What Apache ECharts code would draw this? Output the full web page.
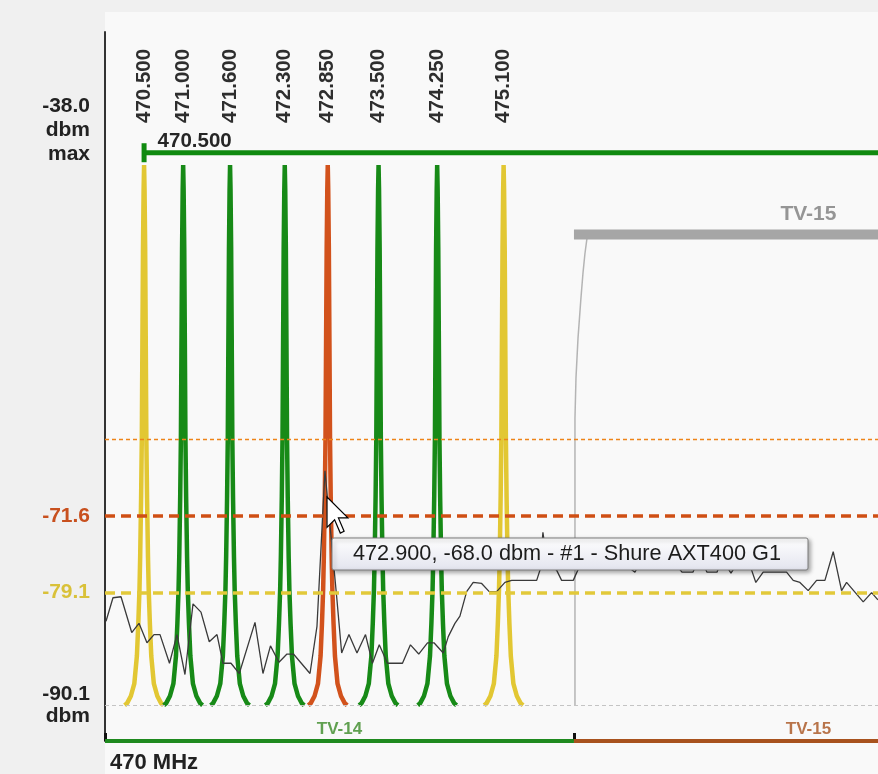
<!DOCTYPE html>
<html><head><meta charset="utf-8">
<script src="https://cdn.jsdelivr.net/npm/echarts@6/dist/echarts.min.js"></script>
<style>html,body{margin:0;padding:0;background:#f0f0f0}#c{width:878px;height:774px}</style>
</head><body><div id="c"></div>
<script>
// ---------------- data ----------------
const CARRIER_MHZ = [470.5, 471.0, 471.6, 472.3, 472.85, 473.5, 474.25, 475.1];
const CARRIER_STATUS = ['warn', 'ok', 'ok', 'ok', 'conflict', 'ok', 'ok', 'warn'];
// carrier peak profile (offset from centre, level)
const PEAK_OFFSET_MHZ = [0.249, 0.217, 0.169, 0.125, 0.092, 0.074, 0.059, 0.050, 0.038, 0.029, 0.022, 0.014, 0.006, 0];
const PEAK_DBM = [-90.1, -89.9, -89.2, -88.0, -85.3, -82.1, -78.8, -75.6, -69.8, -64.0, -55.2, -45.5, -39.7, -37.3];
const NOISE_MHZ = [470.013, 470.102, 470.205, 470.342, 470.435, 470.537, 470.627, 470.704, 470.825, 470.921,
  471.023, 471.126, 471.228, 471.334, 471.433, 471.51, 471.612, 471.718, 471.919, 472.021,
  472.117, 472.226, 472.328, 472.411, 472.623, 472.712, 472.814, 472.964, 473.028, 473.121,
  473.224, 473.333, 473.422, 473.509, 473.614, 473.806, 473.908, 474.014, 474.126, 474.209,
  474.328, 474.392, 474.477, 474.541, 474.627, 474.711, 474.819, 474.916, 475.011, 475.117,
  475.203, 475.523, 475.565, 475.603, 475.654, 475.778, 475.842, 475.991, 476.055, 476.204,
  476.332, 476.486, 476.614, 476.78, 476.87, 476.998, 477.126, 477.228, 477.382, 477.522,
  477.612, 477.702, 477.83, 477.894, 478.009, 478.124, 478.273, 478.327, 478.421, 478.72,
  478.805, 478.891, 478.997, 479.104, 479.211, 479.317, 479.424, 479.488, 479.701, 479.808, 479.889];
const NOISE_DBM = [-81.9, -79.6, -79.5, -83.0, -82.1, -84.0, -83.2, -83.2, -86.0, -83.2,
  -87.1, -80.2, -81.0, -83.9, -83.2, -86.0, -86.0, -87.0, -82.0, -87.0,
  -84.3, -85.9, -85.1, -85.1, -87.0, -82.4, -67.2, -79.5, -85.0, -83.2,
  -85.0, -83.2, -86.0, -84.2, -86.0, -86.0, -84.2, -85.1, -84.0, -84.0,
  -85.0, -83.4, -82.1, -81.4, -79.0, -78.1, -78.2, -79.0, -79.0, -78.1,
  -77.9, -77.9, -76.9, -73.2, -76.1, -76.9, -77.9, -77.9, -76.8, -75.8,
  -76.1, -75.6, -76.1, -77.1, -75.8, -76.8, -76.8, -75.6, -77.1, -77.1,
  -75.6, -77.1, -77.1, -75.8, -77.2, -75.8, -76.9, -78.1, -77.1, -77.1,
  -77.9, -78.1, -78.9, -77.9, -77.9, -75.1, -78.9, -78.1, -80.0, -79.1, -79.8];
const THRESH_DBM = [-64.1, -71.6, -79.1, -90.1];
const Y_TICKS = [-90.1, -79.1, -71.6, -38.0];
const MAX_LINE_DBM = -36.1;
const RANGE_START_MHZ = 470.5;
const TV_NAME = ['TV-14', 'TV-15'];
const TV_START = [470, 476];
const TV_END = [476, 482];
const TV15_MHZ = [476.013, 476.013, 476.026, 476.052, 476.089, 476.115, 476.14, 476.166, 476.204];
const TV15_DBM = [-90.1, -62.0, -58.1, -54.2, -50.35, -47.9, -46.0, -44.5, -43.9];
const TV15_LEVEL = -44.1;
const HOVER_MHZ = 472.9;
const HOVER_DBM = -68.0;
const HOVER_DEVICE = '#1 - Shure AXT400 G1';
const X_MIN = 470, X_MAX = 479.89, Y_MIN = -93.6, Y_MAX = -24.3;

// ---------------- style ----------------
const FONT = '"Liberation Sans", Arial, sans-serif';
const STATUS_COLOR = { ok: '#178a17', warn: '#e2c733', conflict: '#d2521c' };
const THRESH_STYLE = [
  { color: '#ee8418', width: 1.4, type: [4, 3], opacity: 1 },
  { color: '#cf4f14', width: 3.5, type: [10, 6], opacity: 1 },
  { color: '#e2c93a', width: 3.5, type: [10, 6], opacity: 1 },
  { color: '#c4c4c4', width: 1, type: [4, 3], opacity: 1 }
];
const BAND_COLOR = ['#1f8a1f', '#a8521e'];
const BAND_LABEL_COLOR = ['#3a8a26', '#a8521e'];

const chart = echarts.init(document.getElementById('c'), null, { renderer: 'canvas' });

function peakShape(c) {
  const pts = PEAK_OFFSET_MHZ.map((o, i) => [c - o, PEAK_DBM[i]]);
  for (let i = PEAK_OFFSET_MHZ.length - 2; i >= 0; i--) pts.push([c + PEAK_OFFSET_MHZ[i], PEAK_DBM[i]]);
  return pts;
}

const series = [];
// TV-15 mask curve + threshold lines
series.push({
  type: 'line', silent: true, showSymbol: false,
  data: TV15_MHZ.map((f, i) => [f, TV15_DBM[i]]),
  lineStyle: { color: '#b4b4b4', width: 1.5 },
  markLine: {
    silent: true, symbol: 'none', label: { show: false },
    data: THRESH_DBM.map((v, i) => ({ yAxis: v, lineStyle: THRESH_STYLE[i] }))
  }
});
// TV-15 bar
series.push({
  type: 'line', silent: true, showSymbol: false,
  data: [[TV_START[1], TV15_LEVEL], [TV_END[1], TV15_LEVEL]],
  lineStyle: { color: '#a6a6a6', width: 10, cap: 'butt' }
});
// carriers
CARRIER_MHZ.forEach((c, k) => {
  series.push({
    type: 'line', silent: true, showSymbol: false,
    data: peakShape(c),
    lineStyle: { color: STATUS_COLOR[CARRIER_STATUS[k]], width: 4.5 }
  });
});
// noise trace
series.push({
  type: 'line', silent: true, showSymbol: false,
  data: NOISE_MHZ.map((f, i) => [f, NOISE_DBM[i]]),
  lineStyle: { color: '#3a3a3a', width: 1.3 }
});
// range line from first carrier
series.push({
  type: 'line', silent: true, showSymbol: true, symbol: 'rect', symbolSize: [5, 19],
  itemStyle: { color: '#108a10' },
  lineStyle: { color: '#108a10', width: 5 },
  data: [
    { value: [RANGE_START_MHZ, MAX_LINE_DBM],
      label: { show: true, formatter: RANGE_START_MHZ.toFixed(3), position: [16, -2], align: 'left', verticalAlign: 'middle',
        fontFamily: FONT, fontWeight: 'bold', fontSize: 20.5, color: '#262626' } },
    { value: [X_MAX, MAX_LINE_DBM], symbol: 'none' }
  ]
});
// bottom TV bands
TV_NAME.forEach((n, i) => {
  series.push({
    type: 'line', silent: true, showSymbol: false, clip: false,
    data: [[TV_START[i], Y_MIN], [TV_END[i], Y_MIN]],
    lineStyle: { color: BAND_COLOR[i], width: 4 }, z: 3
  });
});
// labels
const labelData = [
  { value: [(TV_START[1] + TV_END[1]) / 2, TV15_LEVEL],
    label: { formatter: TV_NAME[1], color: '#7c7c7c', fontSize: 21, distance: 9 } }
];
TV_NAME.forEach((n, i) => labelData.push({
  value: [(TV_START[i] + TV_END[i]) / 2, Y_MIN],
  label: { formatter: n, color: BAND_LABEL_COLOR[i], fontSize: 17, distance: 3 }
}));
series.push({
  type: 'scatter', silent: true, symbolSize: 1, clip: false,
  itemStyle: { color: 'rgba(0,0,0,0)' },
  label: { show: true, position: 'top', fontFamily: FONT, fontWeight: 'bold' },
  data: labelData
});

const yLabelRich = {
  k: { fontFamily: FONT, fontWeight: 'bold', fontSize: 21, color: '#222', lineHeight: 24, align: 'right' },
  b: { fontFamily: FONT, fontWeight: 'bold', fontSize: 21, color: '#222', lineHeight: 22, align: 'right' },
  r: { fontFamily: FONT, fontWeight: 'bold', fontSize: 21, color: '#c8501e', align: 'right' },
  y: { fontFamily: FONT, fontWeight: 'bold', fontSize: 21, color: '#d9c139', align: 'right' },
  sp: { fontSize: 10, lineHeight: 84 }
};

const option = {
  animation: false,
  backgroundColor: '#f0f0f0',
  textStyle: { fontFamily: FONT },
  grid: { left: 105, right: 0, top: 32, bottom: 29, containLabel: false },
  xAxis: [
    { type: 'value', min: X_MIN, max: X_MAX, position: 'bottom',
      axisLine: { show: false }, splitLine: { show: false },
      axisTick: { show: true, customValues: [TV_START[0], TV_START[1]], inside: true, length: 8,
        lineStyle: { color: '#111', width: 3 } },
      axisLabel: { customValues: [X_MIN], formatter: v => v + ' MHz', align: 'left', margin: 11,
        padding: [0, 0, 0, 5], fontFamily: FONT, fontWeight: 'bold', fontSize: 22, color: '#222' } },
    { type: 'value', min: X_MIN, max: X_MAX, position: 'top', offset: -95,
      axisLine: { show: false }, axisTick: { show: false }, splitLine: { show: false },
      axisLabel: { customValues: CARRIER_MHZ, rotate: -90, margin: 4, formatter: v => v.toFixed(3),
        fontFamily: FONT, fontWeight: 'bold', fontSize: 20.5, color: '#2e2e2e' } }
  ],
  yAxis: {
    type: 'value', min: Y_MIN, max: Y_MAX,
    axisLine: { show: true, lineStyle: { color: '#333', width: 2 } },
    axisTick: { show: false }, splitLine: { show: false },
    axisLabel: {
      customValues: Y_TICKS, margin: 15, rich: yLabelRich,
      formatter: v => {
        const s = v.toFixed(1);
        if (s === Y_TICKS[3].toFixed(1)) return '{k|' + s + '}\n{k|dbm}\n{k|max}\n{sp| }';
        if (s === Y_TICKS[0].toFixed(1)) return '{b|' + s + '}\n{b|dbm}';
        if (s === Y_TICKS[2].toFixed(1)) return '{r|' + s + '}';
        return '{y|' + s + '}';
      }
    }
  },
  graphic: [
    { type: 'rect', z: -10, silent: true, shape: { x: 105, y: 12, width: 773, height: 762 }, style: { fill: '#f9f9f9' } },
    { type: 'polygon', z: 100, silent: true, x: 327, y: 497,
      shape: { points: [[0, 0], [0, 30.4], [7.6, 22.8], [13.3, 36.1], [17.1, 34.2], [11.4, 20.9], [20.9, 20.9]] },
      style: { fill: '#fff', stroke: '#000', lineWidth: 1.2 } },
    { type: 'rect', z: 100, silent: true, shape: { x: 332, y: 538, width: 476, height: 32, r: 2 },
      style: { fill: new echarts.graphic.LinearGradient(0, 0, 0, 1, [{ offset: 0, color: '#ffffff' }, { offset: 1, color: '#e3e4ee' }]),
        stroke: '#7d7d7d', lineWidth: 1, shadowBlur: 4, shadowOffsetX: 2, shadowOffsetY: 2, shadowColor: 'rgba(0,0,0,0.35)' } },
    { type: 'text', z: 101, silent: true, x: 353, y: 554,
      style: { text: HOVER_MHZ.toFixed(3) + ', ' + HOVER_DBM.toFixed(1) + ' dbm - ' + HOVER_DEVICE,
        font: '21.7px "Liberation Sans", Arial, sans-serif', fill: '#1c1c1c', verticalAlign: 'middle', align: 'left' } }
  ],
  series: series
};
chart.setOption(option);
</script>
</body></html>
